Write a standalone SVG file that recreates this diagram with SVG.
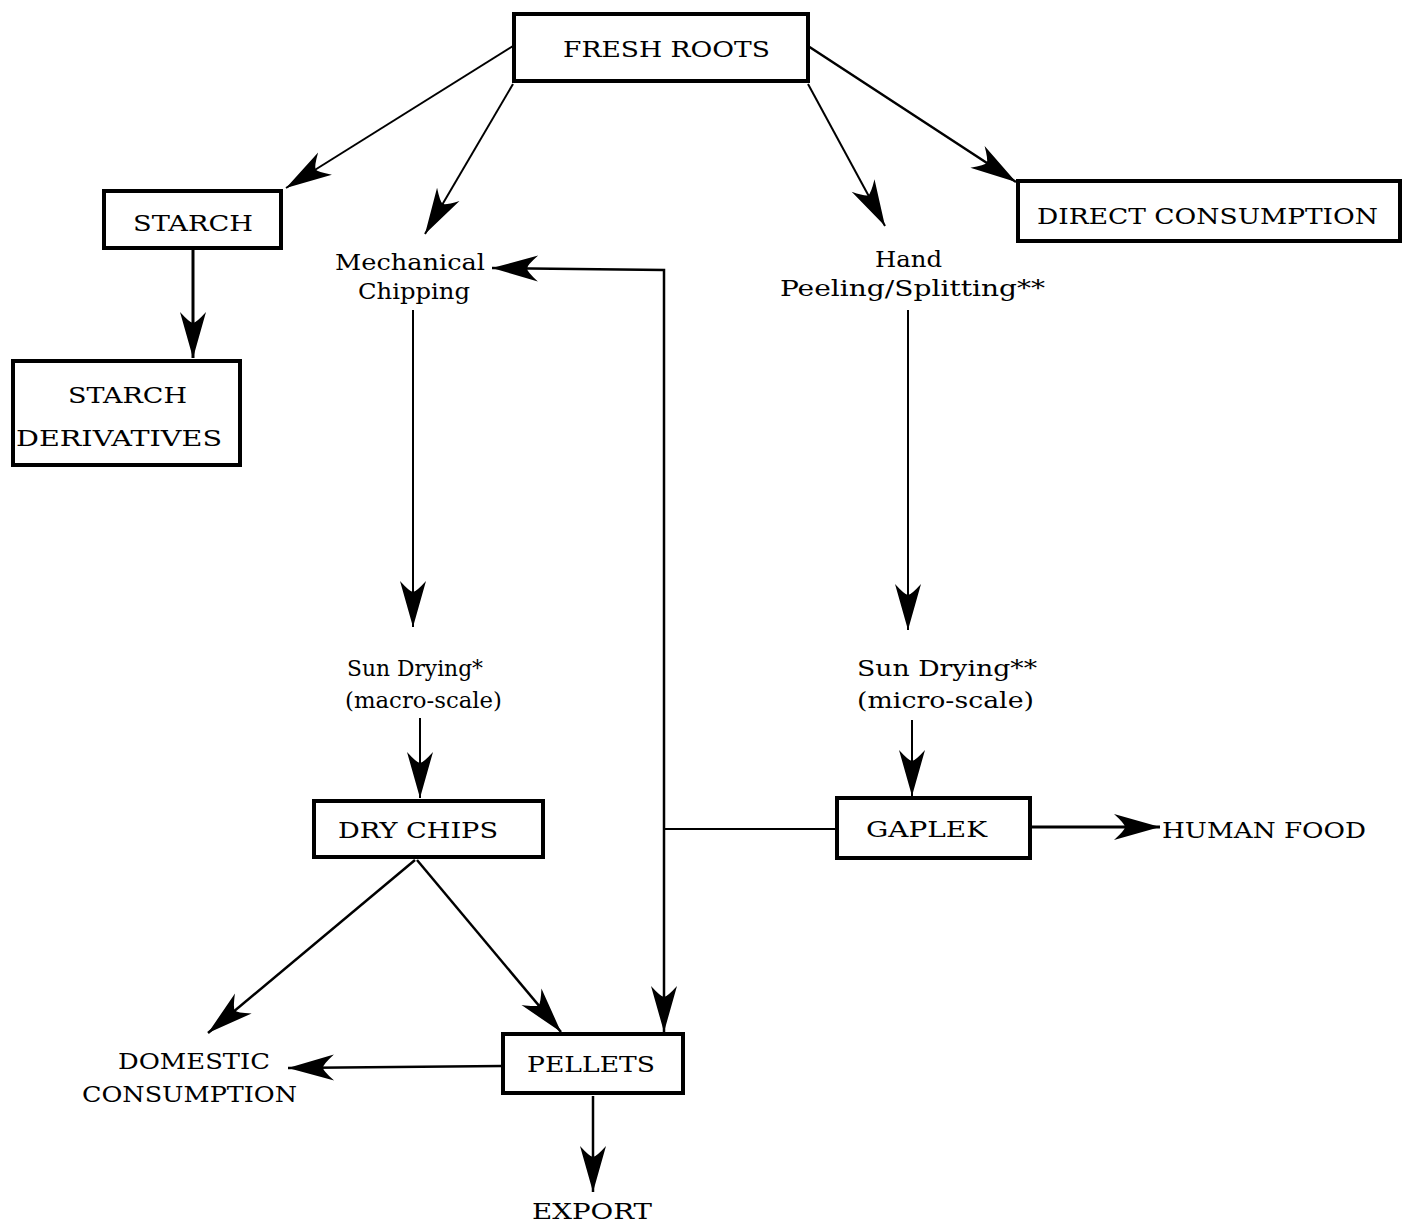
<svg xmlns="http://www.w3.org/2000/svg" width="1413" height="1222" viewBox="0 0 1413 1222">
<style>
.box{fill:#fff;stroke:#000;stroke-width:4}
.t{font-family:"DejaVu Serif","Liberation Serif",serif;font-size:23px;fill:#000}
.c{fill:none;stroke:#000;stroke-width:2}
</style>
<defs>
<marker id="ah" markerUnits="userSpaceOnUse" orient="auto" refX="0" refY="0" markerWidth="60" markerHeight="40" viewBox="-50 -20 60 40" overflow="visible">
<path d="M0,0 L-46,-13 Q-35,-3 -35,0 Q-35,3 -46,13 Z" fill="#000"/>
</marker>
</defs>
<rect width="1413" height="1222" fill="#fff"/>
<g id="connectors">
<line class="c" x1="513" y1="46" x2="286" y2="188" marker-end="url(#ah)"/>
<line class="c" x1="513" y1="84" x2="425" y2="234" marker-end="url(#ah)"/>
<line class="c" x1="808" y1="84" x2="885" y2="226" marker-end="url(#ah)"/>
<line class="c" style="stroke-width:2.5" x1="808" y1="46" x2="1016" y2="182" marker-end="url(#ah)"/>
<line class="c" style="stroke-width:3" x1="193" y1="248" x2="193" y2="358" marker-end="url(#ah)"/>
<line class="c" x1="413" y1="310" x2="413" y2="627" marker-end="url(#ah)"/>
<line class="c" x1="908" y1="310" x2="908" y2="630" marker-end="url(#ah)"/>
<line class="c" x1="420" y1="718" x2="420" y2="798" marker-end="url(#ah)"/>
<line class="c" x1="912" y1="720" x2="912" y2="796" marker-end="url(#ah)"/>
<polyline class="c" points="664,1032 664,270 492,268" marker-end="url(#ah)" style="stroke-width:2.5"/>
<line class="c" x1="664" y1="360" x2="664" y2="1032" marker-end="url(#ah)"/>
<line class="c" x1="664" y1="829" x2="836" y2="829"/>
<line class="c" style="stroke-width:2.5" x1="415" y1="860" x2="208" y2="1033" marker-end="url(#ah)"/>
<line class="c" style="stroke-width:2.5" x1="417" y1="860" x2="561" y2="1032" marker-end="url(#ah)"/>
<line class="c" style="stroke-width:2.5" x1="502" y1="1066" x2="288" y2="1068" marker-end="url(#ah)"/>
<line class="c" style="stroke-width:2.5" x1="593" y1="1096" x2="593" y2="1192" marker-end="url(#ah)"/>
<line class="c" style="stroke-width:3" x1="1030" y1="827" x2="1160" y2="827" marker-end="url(#ah)"/>
</g>
<g id="fresh-roots"><rect class="box" x="514" y="14" width="294" height="67"/><text class="t" x="563" y="57" textLength="207" lengthAdjust="spacingAndGlyphs">FRESH ROOTS</text></g>
<g id="starch"><rect class="box" x="104" y="191" width="177" height="57"/><text class="t" x="133" y="231" textLength="120" lengthAdjust="spacingAndGlyphs">STARCH</text></g>
<g id="starch-derivatives"><rect class="box" x="13" y="361" width="227" height="104"/><text class="t" x="68" y="403" textLength="119" lengthAdjust="spacingAndGlyphs">STARCH</text><text class="t" x="16" y="446" textLength="206" lengthAdjust="spacingAndGlyphs">DERIVATIVES</text></g>
<g id="direct-consumption"><rect class="box" x="1018" y="181" width="382" height="60"/><text class="t" x="1037" y="224" textLength="341" lengthAdjust="spacingAndGlyphs">DIRECT CONSUMPTION</text></g>
<g id="mechanical-chipping"><text class="t" x="335" y="270" textLength="150" lengthAdjust="spacingAndGlyphs">Mechanical</text><text class="t" x="358" y="299" textLength="112" lengthAdjust="spacingAndGlyphs">Chipping</text></g>
<g id="hand-peeling"><text class="t" x="875" y="267" textLength="67" lengthAdjust="spacingAndGlyphs">Hand</text><text class="t" x="780" y="296" textLength="265" lengthAdjust="spacingAndGlyphs">Peeling/Splitting**</text></g>
<g id="sun-drying-macro"><text class="t" x="347" y="676" textLength="136" lengthAdjust="spacingAndGlyphs">Sun Drying*</text><text class="t" x="345" y="708" textLength="157" lengthAdjust="spacingAndGlyphs">(macro-scale)</text></g>
<g id="sun-drying-micro"><text class="t" x="857" y="676" textLength="180" lengthAdjust="spacingAndGlyphs">Sun Drying**</text><text class="t" x="857" y="708" textLength="177" lengthAdjust="spacingAndGlyphs">(micro-scale)</text></g>
<g id="dry-chips"><rect class="box" x="314" y="801" width="229" height="56"/><text class="t" x="338" y="838" textLength="160" lengthAdjust="spacingAndGlyphs">DRY CHIPS</text></g>
<g id="gaplek"><rect class="box" x="837" y="798" width="193" height="60"/><text class="t" x="866" y="837" textLength="121" lengthAdjust="spacingAndGlyphs">GAPLEK</text></g>
<g id="human-food"><text class="t" x="1162" y="838" textLength="204" lengthAdjust="spacingAndGlyphs">HUMAN FOOD</text></g>
<g id="pellets"><rect class="box" x="503" y="1034" width="180" height="59"/><text class="t" x="527" y="1072" textLength="128" lengthAdjust="spacingAndGlyphs">PELLETS</text></g>
<g id="domestic-consumption"><text class="t" x="118" y="1069" textLength="152" lengthAdjust="spacingAndGlyphs">DOMESTIC</text><text class="t" x="82" y="1102" textLength="215" lengthAdjust="spacingAndGlyphs">CONSUMPTION</text></g>
<g id="export"><text class="t" x="532" y="1219" textLength="120" lengthAdjust="spacingAndGlyphs">EXPORT</text></g>
</svg>
